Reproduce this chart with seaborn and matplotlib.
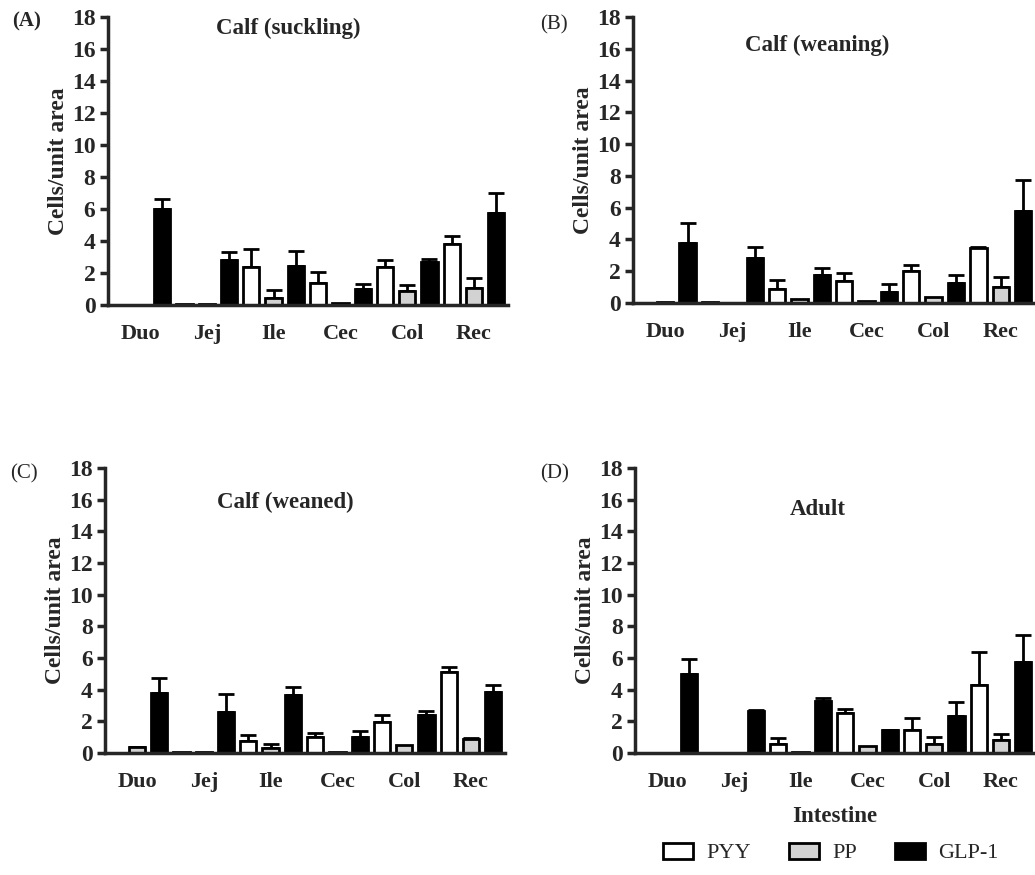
import numpy as np
import pandas as pd
import matplotlib
matplotlib.use("Agg")
import matplotlib.pyplot as plt
import seaborn as sns
from matplotlib.patches import Patch

# ---------------- data ----------------
segments = ["Duo", "Jej", "Ile", "Cec", "Col", "Rec"]
peptides = ["PYY", "PP", "GLP-1"]
panel_titles = ["Calf (suckling)", "Calf (weaning)", "Calf (weaned)", "Adult"]
panel_letters = ["(A)", "(B)", "(C)", "(D)"]
bar_colors = ["#ffffff", "#d2d2d2", "#000000"]

# (A) Calf (suckling)
a_pyy = [0.0, 0.05, 2.4, 1.35, 2.4, 3.8]
a_pyy_err = [0.0, 0.0, 1.1, 0.7, 0.42, 0.52]
a_pp = [0.0, 0.05, 0.46, 0.15, 0.9, 1.05]
a_pp_err = [0.0, 0.0, 0.5, 0.0, 0.37, 0.63]
a_glp = [6.0, 2.8, 2.45, 1.0, 2.7, 5.75]
a_glp_err = [0.6, 0.5, 0.95, 0.3, 0.15, 1.22]

# (B) Calf (weaning)
b_pyy = [0.0, 0.05, 0.85, 1.4, 2.0, 3.45]
b_pyy_err = [0.0, 0.0, 0.58, 0.5, 0.4, 0.06]
b_pp = [0.05, 0.0, 0.25, 0.12, 0.4, 1.0]
b_pp_err = [0.0, 0.0, 0.0, 0.0, 0.0, 0.63]
b_glp = [3.78, 2.85, 1.78, 0.67, 1.26, 5.77]
b_glp_err = [1.25, 0.67, 0.44, 0.5, 0.52, 1.95]

# (C) Calf (weaned)
c_pyy = [0.0, 0.05, 0.75, 1.0, 1.95, 5.12]
c_pyy_err = [0.0, 0.0, 0.38, 0.27, 0.44, 0.31]
c_pp = [0.35, 0.05, 0.32, 0.05, 0.53, 0.9]
c_pp_err = [0.06, 0.0, 0.27, 0.0, 0.0, 0.06]
c_glp = [3.8, 2.57, 3.68, 1.0, 2.38, 3.85]
c_glp_err = [0.95, 1.16, 0.49, 0.38, 0.25, 0.47]

# (D) Adult
d_pyy = [0.0, 0.0, 0.6, 2.53, 1.43, 4.27]
d_pyy_err = [0.0, 0.0, 0.32, 0.27, 0.78, 2.11]
d_pp = [0.0, 0.0, 0.05, 0.44, 0.59, 0.84]
d_pp_err = [0.0, 0.0, 0.0, 0.0, 0.42, 0.38]
d_glp = [5.0, 2.65, 3.28, 1.43, 2.32, 5.75]
d_glp_err = [0.95, 0.05, 0.21, 0.05, 0.9, 1.68]

panels = [
    ((a_pyy, a_pp, a_glp), (a_pyy_err, a_pp_err, a_glp_err)),
    ((b_pyy, b_pp, b_glp), (b_pyy_err, b_pp_err, b_glp_err)),
    ((c_pyy, c_pp, c_glp), (c_pyy_err, c_pp_err, c_glp_err)),
    ((d_pyy, d_pp, d_glp), (d_pyy_err, d_pp_err, d_glp_err)),
]

# ---------------- style ----------------
sns.set_style("ticks")
plt.rcParams["font.family"] = ["Liberation Serif", "DejaVu Serif"]
plt.rcParams["font.weight"] = "bold"

W, H = 1035, 875
fig = plt.figure(figsize=(W / 100, H / 100), dpi=100)

# axes rectangles in pixels: left, right, top(18), bottom(0)
rects_px = [
    (108, 508, 17, 305),
    (633, 1035, 17, 303),
    (105, 505, 468, 753),
    (635, 1035, 468, 753),
]
title_pos = [(0.45, 0.962), (0.458, 0.902), (0.45, 0.88), (0.456, 0.853)]
letter_pos = [(12, 21, "bold"), (540, 25, "normal"), (10, 474, "normal"), (540, 474, "normal")]

palette = dict(zip(peptides, bar_colors))

for i, ((vals, errs), (l, r, t, b)) in enumerate(zip(panels, rects_px)):
    ax = fig.add_axes([l / W, 1 - b / H, (r - l) / W, (b - t) / H])
    rows = []
    for p, v, e in zip(peptides, vals, errs):
        for s, vv, ee in zip(segments, v, e):
            rows.append({"Segment": s, "Peptide": p, "Value": vv, "Err": ee})
    df = pd.DataFrame(rows)
    sns.barplot(data=df, x="Segment", y="Value", hue="Peptide",
                order=segments, hue_order=peptides, palette=palette,
                width=1.0, gap=0.27, errorbar=None, edgecolor="black",
                linewidth=2, legend=False, ax=ax, zorder=2)
    # error bars (upper only) on bar centres from the library's layout
    bars = [pt for pt in ax.patches]
    xs = np.array([pt.get_x() + pt.get_width() / 2 for pt in bars])
    ys = np.array([pt.get_height() for pt in bars])
    es = df["Err"].to_numpy()
    m = es > 0
    ax.errorbar(xs[m], ys[m], yerr=[np.zeros(m.sum()), es[m]], fmt="none",
                ecolor="black", elinewidth=2, capsize=6, capthick=2, zorder=1)
    ax.set_xlim(-0.48, 5.51)
    ax.set_ylim(0, 18)
    ax.set_yticks(np.arange(0, 19, 2))
    ax.tick_params(axis="y", direction="out", length=6, width=2.5, pad=3,
                   labelsize=17)
    ax.tick_params(axis="x", length=0, pad=14, labelsize=16)
    for lab in ax.get_xticklabels() + ax.get_yticklabels():
        lab.set_fontweight("bold")
    sns.despine(ax=ax)
    ax.spines["left"].set_linewidth(2.5)
    ax.spines["bottom"].set_linewidth(2.5)
    ax.set_ylabel("Cells/unit area", fontsize=17, fontweight="bold", labelpad=2)
    if i == 3:
        ax.set_xlabel("Intestine", fontsize=16.5, fontweight="bold", labelpad=10)
    else:
        ax.set_xlabel("")
    tx, ty = title_pos[i]
    ax.text(tx, ty, panel_titles[i], transform=ax.transAxes, ha="center",
            va="center", fontsize=16.5, fontweight="bold")
    lx, ly, lw = letter_pos[i]
    fig.text(lx / W, 1 - ly / H, panel_letters[i], ha="left", va="center",
             fontsize=15, fontweight=lw)

handles = [Patch(facecolor=c, edgecolor="black", linewidth=2) for c in bar_colors]
fig.legend(handles, peptides, loc="center", bbox_to_anchor=(831 / W, 1 - 853 / H),
           ncol=3, frameon=False, handlelength=1.35,
           handleheight=0.75, columnspacing=1.7, handletextpad=0.6,
           borderpad=0, borderaxespad=0,
           prop={"weight": "normal", "size": 16})

fig.savefig("out.png", dpi=100)
